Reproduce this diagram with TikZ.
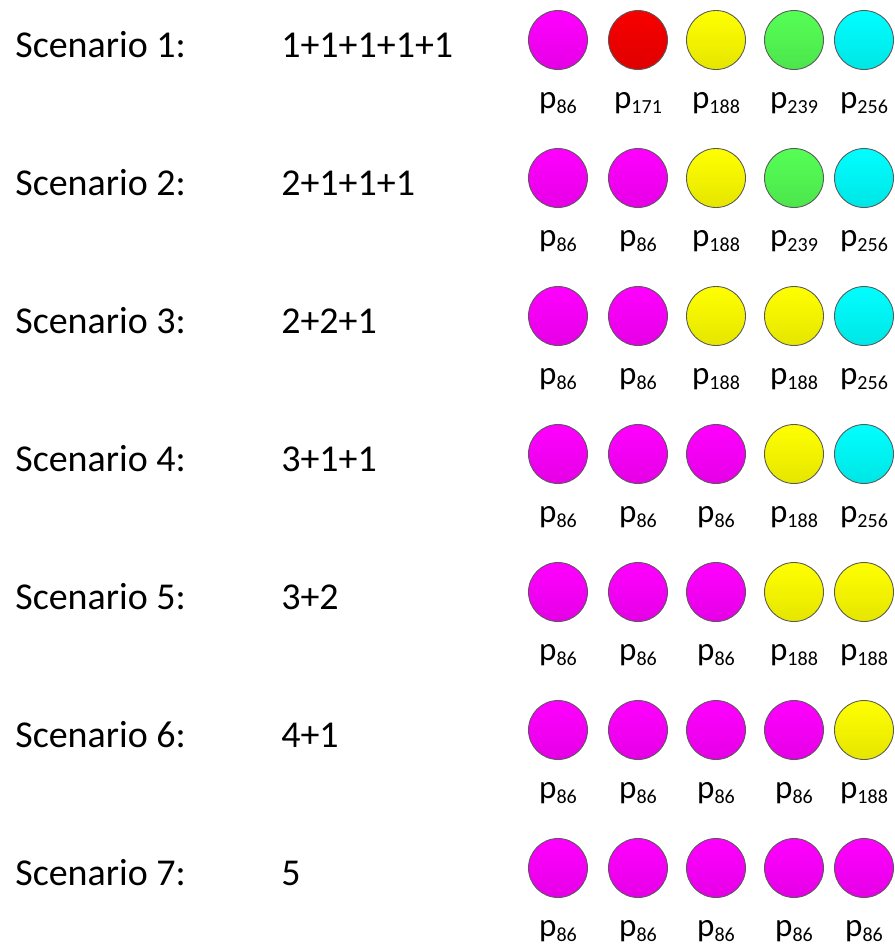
\documentclass[tikz,border=0pt]{standalone}
\usepackage{fontspec}
\setmainfont{Carlito}
\usepackage{tikz}
\usetikzlibrary{positioning}
\definecolor{ballmagenta}{HTML}{FF00FF}
\definecolor{ballred}{HTML}{F80000}
\definecolor{ballyellow}{HTML}{FFFF00}
\definecolor{ballgreen}{HTML}{55FF55}
\definecolor{ballcyan}{HTML}{00FFFF}
\tikzset{
  scenlabel/.style={anchor=base west,inner sep=0pt,font=\fontsize{21.6}{26}\selectfont},
  ball/.style={circle,draw=black!65,line width=0.5pt,minimum size=1.18cm,inner sep=0pt},
  balllabel/.style={anchor=base,inner sep=0pt,font=\fontsize{18.8}{22}\selectfont}
}
\newcommand{\pidx}[1]{p\raisebox{-0.1cm}{\fontsize{11.4}{13}\selectfont #1}}
% one scenario: number, partition, list of colour/index
\newcommand{\scenariorow}[3]{%
  \pgfmathsetmacro{\rowy}{-0.80-2.76*(#1-1)}
  \node[scenlabel] (scen#1) at (0.30,\rowy-0.35) {Scenario #1:};
  \node[scenlabel] (sum#1) at (5.62,\rowy-0.35) {#2};
  \foreach \col/\sub [count=\k] in {#3} {
    \pgfmathsetmacro{\bx}{{11.16,12.76,14.32,15.88,17.28}[\k-1]}
    \node[ball,top color=\col,bottom color=\col!90!black] (b#1-\k) at (\bx,\rowy) {};
    \node[balllabel] (p#1-\k) at (\bx,\rowy-1.36) {\pidx{\sub}};
  }
}

\begin{document}
\begin{tikzpicture}[x=1cm,y=1cm]
  \useasboundingbox (0,0) rectangle (17.9,-18.98);
  \scenariorow{1}{1+1+1+1+1}{ballmagenta/86,ballred/171,ballyellow/188,ballgreen/239,ballcyan/256}
  \scenariorow{2}{2+1+1+1}{ballmagenta/86,ballmagenta/86,ballyellow/188,ballgreen/239,ballcyan/256}
  \scenariorow{3}{2+2+1}{ballmagenta/86,ballmagenta/86,ballyellow/188,ballyellow/188,ballcyan/256}
  \scenariorow{4}{3+1+1}{ballmagenta/86,ballmagenta/86,ballmagenta/86,ballyellow/188,ballcyan/256}
  \scenariorow{5}{3+2}{ballmagenta/86,ballmagenta/86,ballmagenta/86,ballyellow/188,ballyellow/188}
  \scenariorow{6}{4+1}{ballmagenta/86,ballmagenta/86,ballmagenta/86,ballmagenta/86,ballyellow/188}
  \scenariorow{7}{5}{ballmagenta/86,ballmagenta/86,ballmagenta/86,ballmagenta/86,ballmagenta/86}
\end{tikzpicture}
\end{document}
